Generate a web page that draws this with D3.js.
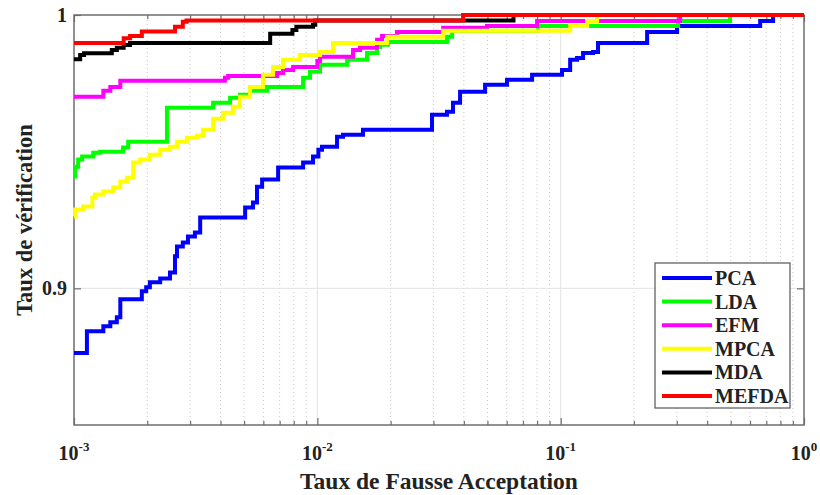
<!DOCTYPE html>
<html lang="fr">
<head>
<meta charset="UTF-8">
<title>Taux de vérification</title>
<style>
  body { margin: 0; background: #fff; }
  svg text { font-family: "Liberation Serif", "Times New Roman", serif; font-weight: bold; fill: #222; }
</style>
</head>
<body>
<svg id="chart"></svg>
<script src="https://cdnjs.cloudflare.com/ajax/libs/d3/7.8.5/d3.min.js"></script>
<script>
// methods, in drawing order
const methods = ['PCA', 'LDA', 'EFM', 'MPCA', 'MDA', 'MEFDA']
const colors = ['#0000ff', '#00ff00', '#ff00ff', '#ffff00', '#000000', '#ff0000']

// [taux de fausse acceptation, taux de vérification], step after each point
const pca = [[0.001, 0.8763], [0.00113, 0.8843], [0.00132, 0.8861], [0.00141, 0.8876], [0.0015, 0.8894],
  [0.00155, 0.896], [0.0019, 0.8989], [0.00198, 0.9004], [0.00205, 0.9022], [0.00226, 0.9036],
  [0.00248, 0.9058], [0.0026, 0.9117], [0.00265, 0.9153], [0.0028, 0.9168], [0.00294, 0.919],
  [0.00314, 0.9204], [0.0033, 0.9259], [0.00505, 0.9296], [0.00544, 0.9314], [0.00565, 0.9372],
  [0.00593, 0.9398], [0.0069, 0.9442], [0.00874, 0.946], [0.0096, 0.9482], [0.0101, 0.9507],
  [0.01045, 0.9518], [0.01205, 0.9555], [0.01275, 0.9562], [0.0154, 0.958], [0.0296, 0.9635],
  [0.0341, 0.9646], [0.0361, 0.9679], [0.0386, 0.9719], [0.0489, 0.9745], [0.0602, 0.9763],
  [0.0763, 0.9781], [0.1013, 0.9799], [0.1094, 0.9836], [0.1168, 0.9843], [0.1236, 0.9861],
  [0.1359, 0.9865], [0.1424, 0.9898], [0.2266, 0.9938], [0.3009, 0.996], [0.6604, 0.9978],
  [0.7464, 1], [1, 1]]
const lda = [[0.001, 0.9409], [0.00101, 0.9445], [0.00104, 0.9471], [0.00108, 0.9482], [0.0012, 0.9496],
  [0.00128, 0.95], [0.00159, 0.9515], [0.00167, 0.9536], [0.00241, 0.9661], [0.00373, 0.9679],
  [0.00438, 0.9697], [0.00481, 0.9708], [0.00529, 0.9723], [0.00621, 0.9737], [0.00874, 0.977],
  [0.00933, 0.9792], [0.01026, 0.9818], [0.01325, 0.9836], [0.016, 0.9861], [0.0176, 0.9883],
  [0.0181, 0.9891], [0.0195, 0.9901], [0.0341, 0.992], [0.0358, 0.9942], [0.0807, 0.996],
  [0.3038, 0.9978], [0.497, 1], [1, 1]]
const efm = [[0.001, 0.9701], [0.00132, 0.9723], [0.00141, 0.9737], [0.00155, 0.9759], [0.00417, 0.977],
  [0.0043, 0.9777], [0.00683, 0.9788], [0.00723, 0.9799], [0.00795, 0.981], [0.01, 0.9832],
  [0.01026, 0.9847], [0.01402, 0.9872], [0.01497, 0.988], [0.0176, 0.9909], [0.01845, 0.9923],
  [0.02126, 0.9938], [0.0329, 0.9953], [0.0498, 0.996], [0.08, 0.9978], [0.3097, 1], [1, 1]]
const mpca = [[0.001, 0.9263], [0.00101, 0.9288], [0.00109, 0.9299], [0.00119, 0.9332], [0.00122, 0.9343],
  [0.00132, 0.9354], [0.00145, 0.9369], [0.00155, 0.9391], [0.00165, 0.9405], [0.00175, 0.946],
  [0.00187, 0.9471], [0.00205, 0.9489], [0.00226, 0.9507], [0.00248, 0.9518], [0.00265, 0.9536],
  [0.00291, 0.9551], [0.0032, 0.9558], [0.00339, 0.958], [0.00373, 0.962], [0.0041, 0.9642],
  [0.0045, 0.9664], [0.00481, 0.9701], [0.00529, 0.9737], [0.00598, 0.9781], [0.00658, 0.981],
  [0.00723, 0.9836], [0.00849, 0.9854], [0.01026, 0.9865], [0.0116, 0.9898], [0.01934, 0.992],
  [0.0329, 0.9942], [0.1094, 0.996], [0.1284, 0.9978], [0.1411, 1], [1, 1]]
const mda = [[0.001, 0.9838], [0.00106, 0.9854], [0.0011, 0.986], [0.00143, 0.9872], [0.0015, 0.988],
  [0.0016, 0.989], [0.0017, 0.9898], [0.0064, 0.9931], [0.0079, 0.9945], [0.0082, 0.9957],
  [0.0096, 0.9964], [0.0098, 0.998], [0.064, 1], [1, 1]]
const mefda = [[0.001, 0.9898], [0.0016, 0.9915], [0.0017, 0.9923], [0.0019, 0.994], [0.0026, 0.9957],
  [0.0028, 0.9975], [0.0029, 0.998], [0.0397, 1], [1, 1]]
const series = [pca, lda, efm, mpca, mda, mefda]

const xTicks = [0.001, 0.01, 0.1, 1]
const xExponents = ['-3', '-2', '-1', '0']
const yTicks = [0.9, 1]
const yTickLabels = ['0.9', '1']

const width = 820, height = 495
const margin = {top: 15, right: 16, bottom: 70, left: 74}

const svg = d3.select('#chart').attr('width', width).attr('height', height)

const x = d3.scaleLog().domain([0.001, 1]).range([margin.left, width - margin.right])
const y = d3.scaleLinear().domain([0.85, 1]).range([height - margin.bottom, margin.top])

const x0 = x.range()[0], x1 = x.range()[1]
const y0 = y.range()[0], y1 = y.range()[1]

// minor positions 2..9 of each decade
const minor = []
for (let e = -3; e < 0; e++) for (let k = 2; k <= 9; k++) minor.push(k * Math.pow(10, e))

// grid
svg.append('g').selectAll('line').data(minor).join('line')
  .attr('x1', d => x(d)).attr('x2', d => x(d)).attr('y1', y0).attr('y2', y1)
  .attr('stroke', '#c8c8c8').attr('stroke-width', 1).attr('stroke-dasharray', '1,3')
svg.append('g').selectAll('line').data(xTicks.slice(1, -1)).join('line')
  .attr('x1', d => x(d)).attr('x2', d => x(d)).attr('y1', y0).attr('y2', y1)
  .attr('stroke', '#e3e3e3').attr('stroke-width', 1)
svg.append('g').selectAll('line').data([0.9]).join('line')
  .attr('x1', x0).attr('x2', x1).attr('y1', d => y(d)).attr('y2', d => y(d))
  .attr('stroke', '#e3e3e3').attr('stroke-width', 1)

// axes (ticks inside, mirrored)
function tickAxis(axis, tf, vals, size) {
  const g = svg.append('g').attr('transform', tf)
    .call(axis.tickValues(vals).tickSizeInner(size).tickSizeOuter(0).tickFormat(''))
  g.select('.domain').remove()
  g.selectAll('line').attr('stroke', '#6e6e6e').attr('stroke-width', 1.2)
}
tickAxis(d3.axisBottom(x), `translate(0,${y0})`, xTicks, -7)
tickAxis(d3.axisBottom(x), `translate(0,${y0})`, minor, -4)
tickAxis(d3.axisTop(x), `translate(0,${y1})`, xTicks, -7)
tickAxis(d3.axisTop(x), `translate(0,${y1})`, minor, -4)
tickAxis(d3.axisLeft(y), `translate(${x0},0)`, yTicks, -7)
tickAxis(d3.axisRight(y), `translate(${x1},0)`, yTicks, -7)

svg.append('rect').attr('x', x0).attr('y', y1).attr('width', x1 - x0).attr('height', y0 - y1)
  .attr('fill', 'none').attr('stroke', '#6e6e6e').attr('stroke-width', 1.5)

// curves
const line = d3.line().x(d => x(d[0])).y(d => y(d[1])).curve(d3.curveStepAfter)
svg.append('g').selectAll('path').data(series).join('path')
  .attr('d', line).attr('fill', 'none')
  .attr('stroke', (d, i) => colors[i]).attr('stroke-width', 4)

// tick labels
const xl = svg.append('g').selectAll('text').data(xTicks).join('text')
  .attr('x', d => x(d)).attr('y', y0 + 35).attr('text-anchor', 'middle').style('font-size', '20px')
xl.append('tspan').text('10')
xl.append('tspan').attr('dy', -9).style('font-size', '13px').text((d, i) => xExponents[i])

svg.append('g').selectAll('text').data(yTicks).join('text')
  .attr('x', x0 - 7).attr('y', d => y(d) + 7).attr('text-anchor', 'end').style('font-size', '20px')
  .text((d, i) => yTickLabels[i])

// axis titles
svg.append('text').attr('x', (x0 + x1) / 2).attr('y', 489).attr('text-anchor', 'middle')
  .style('font-size', '23.5px').text('Taux de Fausse Acceptation')
svg.append('text').attr('transform', `translate(32,${(y0 + y1) / 2}) rotate(-90)`)
  .attr('text-anchor', 'middle').style('font-size', '22.5px').text('Taux de vérification')

// legend
const lg = svg.append('g').attr('transform', 'translate(655,263)')
lg.append('rect').attr('width', 135).attr('height', 145).attr('fill', '#fff')
  .attr('stroke', '#555').attr('stroke-width', 1.2)
const item = lg.selectAll('g').data(methods).join('g')
  .attr('transform', (d, i) => `translate(0,${15 + i * 23.6})`)
item.append('line').attr('x1', 7).attr('x2', 57)
  .attr('stroke', (d, i) => colors[i]).attr('stroke-width', 4)
item.append('text').attr('x', 60).attr('y', 7).style('font-size', '20px').text(d => d)
</script>
</body>
</html>
